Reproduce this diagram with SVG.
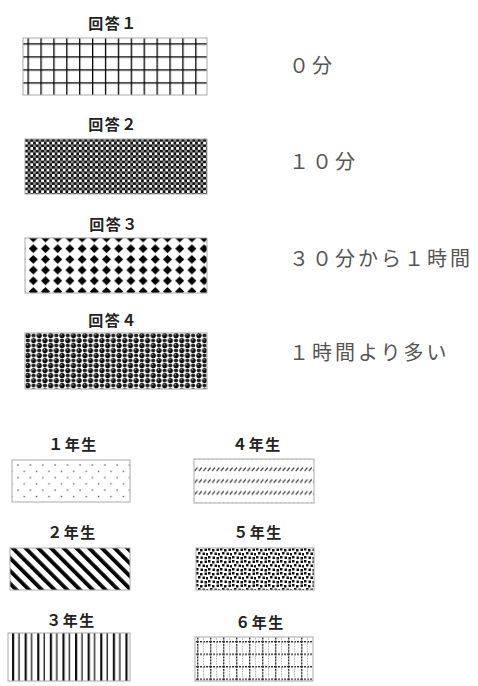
<svg xmlns="http://www.w3.org/2000/svg" width="478" height="686" viewBox="0 0 478 686">
<style>
.t{font-family:"Noto Sans CJK JP","Noto Sans",sans-serif;font-weight:bold;font-size:15px;fill:#222;text-anchor:middle;letter-spacing:1.5px}
.r{font-family:"Noto Sans CJK JP","Noto Sans",sans-serif;font-size:20px;fill:#555;letter-spacing:3px}
.b{stroke:#aaa;stroke-width:1}
</style>
<defs>
<pattern id="pGrid" patternUnits="userSpaceOnUse" x="27.5" y="43.3" width="12.9" height="13">
<rect width="12.9" height="13" fill="#fff"/>
<line x1="0" y1="0" x2="0" y2="13" stroke="#000" stroke-width="2.6"/>
<line x1="0" y1="0" x2="12.9" y2="0" stroke="#000" stroke-width="2.6"/>
</pattern>
<pattern id="pCheck" patternUnits="userSpaceOnUse" x="25" y="139" width="5.4" height="5.4">
<rect width="5.4" height="5.4" fill="#fff"/>
<rect width="2.7" height="2.7" fill="#111"/>
<rect x="2.7" y="2.7" width="2.7" height="2.7" fill="#111"/>
<rect x="2.7" y="0" width="2.7" height="2.7" fill="#888"/>
</pattern>
<pattern id="pDiamond" patternUnits="userSpaceOnUse" x="27.2" y="232.65" width="12.2" height="10.7">
<rect width="12.2" height="10.7" fill="#fff"/>
<path d="M6.1 0.9 L10.6 5.35 L6.1 9.8 L1.6 5.35 Z" fill="#000"/>
</pattern>
<radialGradient id="gSph" cx="0.38" cy="0.35" r="0.6">
<stop offset="0" stop-color="#bbb"/>
<stop offset="0.3" stop-color="#222"/>
<stop offset="1" stop-color="#000"/>
</radialGradient>
<pattern id="pSphere" patternUnits="userSpaceOnUse" x="25" y="333" width="11.4" height="10">
<rect width="11.4" height="10" fill="#fff"/>
<circle cx="2.85" cy="2.5" r="2.6" fill="url(#gSph)"/>
<circle cx="8.55" cy="7.5" r="2.6" fill="url(#gSph)"/>
<circle cx="8.55" cy="2.5" r="2.1" fill="#222"/>
<circle cx="2.85" cy="7.5" r="2.1" fill="#222"/>
</pattern>
<pattern id="pDots" patternUnits="userSpaceOnUse" x="16" y="463" width="12.4" height="12.6">
<rect width="12.4" height="12.6" fill="#fff"/>
<circle cx="2" cy="2" r="0.8" fill="#555"/>
<circle cx="8.2" cy="8.3" r="0.8" fill="#555"/>
</pattern>
<pattern id="pDash" patternUnits="userSpaceOnUse" x="194" y="463" width="4.4" height="11.8">
<rect width="4.4" height="11.8" fill="#fff"/>
<line x1="0.6" y1="8" x2="3.4" y2="4.6" stroke="#333" stroke-width="1.2"/>
</pattern>
<pattern id="pStripe" patternUnits="userSpaceOnUse" x="10" y="548" width="9" height="9" patternTransform="rotate(-45 10 548)">
<rect width="9" height="9" fill="#fff"/>
<rect width="3.8" height="9" fill="#000"/>
</pattern>
<pattern id="pConf" patternUnits="userSpaceOnUse" x="196" y="548" width="12" height="12">
<rect width="12" height="12" fill="#fff"/>
<rect x="0" y="0" width="2.5" height="2.5" fill="#111"/>
<rect x="4" y="1" width="2.5" height="2.5" fill="#111"/>
<rect x="8.5" y="0.5" width="2.5" height="2.5" fill="#111"/>
<rect x="2" y="4" width="2.5" height="2.5" fill="#111"/>
<rect x="6.5" y="4.5" width="2.5" height="2.5" fill="#111"/>
<rect x="10" y="5" width="2" height="2.5" fill="#111"/>
<rect x="0" y="8" width="2.5" height="2.5" fill="#111"/>
<rect x="4.5" y="8.5" width="2.5" height="2.5" fill="#111"/>
<rect x="8.5" y="9" width="2.5" height="2.5" fill="#111"/>
</pattern>
<pattern id="pVert" patternUnits="userSpaceOnUse" x="12" y="633" width="12.6" height="10">
<rect width="12.6" height="10" fill="#fff"/>
<rect x="0" width="2.2" height="10" fill="#111"/>
<rect x="6.3" width="1.5" height="10" fill="#333"/>
</pattern>
<pattern id="pDGrid" patternUnits="userSpaceOnUse" x="197" y="641" width="13" height="12.5">
<rect width="13" height="12.5" fill="#fff"/>
<line x1="0.7" y1="0" x2="0.7" y2="12.5" stroke="#333" stroke-width="1.4" stroke-dasharray="2 1"/>
<line x1="0" y1="0.7" x2="13" y2="0.7" stroke="#333" stroke-width="1.4" stroke-dasharray="2 1"/>
<line x1="6.5" y1="0" x2="6.5" y2="12.5" stroke="#888" stroke-width="0.9" stroke-dasharray="1 1.5"/>
</pattern>
</defs>

<g id="ans1">
<text class="t" x="113" y="29">回答１</text>
<rect class="b" x="23" y="38" width="184" height="57" fill="url(#pGrid)"/>
</g>
<g id="ans2">
<text class="t" x="113" y="130">回答２</text>
<rect class="b" x="25" y="139" width="182" height="55" fill="url(#pCheck)"/>
</g>
<g id="ans3">
<text class="t" x="114" y="230">回答３</text>
<rect class="b" x="25" y="238" width="182" height="55" fill="url(#pDiamond)"/>
</g>
<g id="ans4">
<text class="t" x="113" y="326">回答４</text>
<rect class="b" x="25" y="333" width="182" height="56" fill="url(#pSphere)"/>
</g>

<g id="lab1"><text class="r" x="289" y="73">０分</text></g>
<g id="lab2"><text class="r" x="289" y="169">１０分</text></g>
<g id="lab3"><text class="r" x="289" y="266">３０分から１時間</text></g>
<g id="lab4"><text class="r" x="289" y="360">１時間より多い</text></g>

<g id="g1">
<text class="t" x="73" y="450">１年生</text>
<rect class="b" x="12" y="460" width="118" height="42" fill="url(#pDots)"/>
</g>
<g id="g4">
<text class="t" x="257" y="450">４年生</text>
<rect class="b" x="194" y="459" width="120" height="44" fill="url(#pDash)"/>
</g>
<g id="g2">
<text class="t" x="72" y="538">２年生</text>
<rect class="b" x="10" y="548" width="120" height="42" fill="url(#pStripe)"/>
</g>
<g id="g5">
<text class="t" x="258" y="538">５年生</text>
<rect class="b" x="196" y="548" width="118" height="42" fill="url(#pConf)"/>
</g>
<g id="g3">
<text class="t" x="71" y="626">３年生</text>
<rect class="b" x="8" y="633" width="122" height="48" fill="url(#pVert)"/>
</g>
<g id="g6">
<text class="t" x="260" y="628">６年生</text>
<rect class="b" x="195" y="637" width="118" height="44" fill="url(#pDGrid)"/>
</g>
<g id="connectors"/>
</svg>
